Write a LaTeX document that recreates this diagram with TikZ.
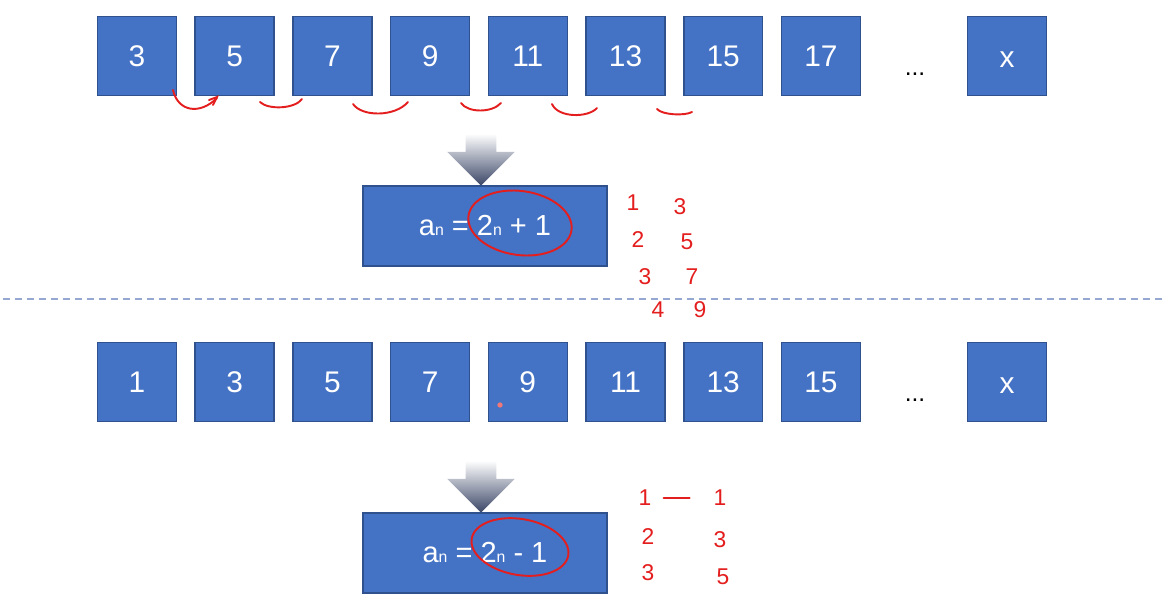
\documentclass[tikz,border=0pt]{standalone}
\usepackage{fontspec}
\setmainfont{Liberation Sans}
\usetikzlibrary{shapes.arrows}
\definecolor{cellBlue}{RGB}{68,114,196}
\definecolor{cellEdge}{RGB}{47,82,143}
\definecolor{arrowDark}{RGB}{58,70,102}
\definecolor{splitBlue}{RGB}{150,168,210}
\definecolor{inkRed}{RGB}{228,30,30}
\tikzset{
  cell/.style={draw=cellEdge, line width=0.9pt, fill=cellBlue, minimum size=1.58cm,
    inner sep=0pt, text=white, font=\fontsize{17}{17}\selectfont},
  lastcell/.style={cell, text height=13.4pt, text depth=0pt},
  formula/.style={draw=cellEdge, line width=0.9pt, fill=cellBlue, minimum width=4.88cm,
    minimum height=1.6cm, inner sep=0pt, text=white, font=\fontsize{16.5}{16.5}\selectfont},
  downarrow/.style={single arrow, shape border rotate=270, draw=none, inner xsep=0.3cm,
    inner ysep=0pt, top color=white, bottom color=arrowDark, minimum height=1.04cm,
    minimum width=1.34cm, single arrow head extend=0.37cm},
  ink/.style={draw=inkRed, line width=1.1pt, line cap=round},
  handnum/.style={text=inkRed, font=\fontsize{13}{13}\selectfont, inner sep=0pt},
  dots/.style={font=\fontsize{14}{14}\selectfont, inner sep=0pt}
}
\newcommand{\sub}{{\fontsize{9}{9}\selectfont n}}
\begin{document}
\begin{tikzpicture}[x=0.02cm,y=-0.02cm]
    \useasboundingbox (0,0) rectangle (1167,599);
    % upper sequence
    \foreach \v [count=\i from 0] in {3,5,7,9,11,13,15,17} {
      \node[cell] (top\i) at ({137+97.7*\i},56) {\v};
    }
    \node[dots] (topdots) at (915,74) {...};
    \node[lastcell] (topx) at (1007,56) {x};
    \node[downarrow] (arr1) at (481,152) {};
    \node[formula] (f1) at (485,226) {a\sub\ = 2\sub\ + 1};
    % split line
    \draw[splitBlue, line width=1.1pt, dash pattern=on 0.14cm off 0.1cm] (3,299) -- (1167,299);
    % lower sequence
    \foreach \v [count=\i from 0] in {1,3,5,7,9,11,13,15} {
      \node[cell] (bot\i) at ({137+97.7*\i},382) {\v};
    }
    \node[dots] (botdots) at (915,400) {...};
    \node[lastcell] (botx) at (1007,382) {x};
    \node[downarrow] (arr2) at (481,479) {};
    \node[formula] (f2) at (485,553) {a\sub\ = 2\sub\ - 1};
    \fill[inkRed!60] (500,405) circle (1.5pt);
    % red annotations
    \draw[ink] (173,90) .. controls (178,112) and (200,115) .. (217,98);
    \draw[ink] (209,100) -- (217,97) -- (213,105);
    \draw[ink] (260,102) .. controls (268,110) and (295,109) .. (302,99);
    \draw[ink] (353,104) .. controls (362,117) and (395,117) .. (408,102);
    \draw[ink] (461,103) .. controls (468,113) and (492,113) .. (501,103);
    \draw[ink] (552,104) .. controls (558,118) and (588,118) .. (597,108);
    \draw[ink] (657,109) .. controls (662,115) and (685,116) .. (692,112);
    \draw[ink, rotate around={-8:(520,223)}] (520,223) ellipse [x radius=1.04cm, y radius=0.64cm];
    \draw[ink, rotate around={-10:(520,547)}] (520,547) ellipse [x radius=0.98cm, y radius=0.56cm];
    \node[handnum] (l1) at (633,203) {1};
    \node[handnum] (r1) at (680,207) {3};
    \node[handnum] (l2) at (638,240) {2};
    \node[handnum] (r2) at (687,242) {5};
    \node[handnum] (l3) at (645,277) {3};
    \node[handnum] (r3) at (692,277) {7};
    \node[handnum] (l4) at (658,310) {4};
    \node[handnum] (r4) at (700,310) {9};
    \node[handnum] (m1) at (645,498) {1};
    \node[handnum] (n1) at (720,498) {1};
    \draw[ink] (m1.east) ++(12,0) coordinate (d1) -- ++(26,0);
    \node[handnum] (m2) at (648,537) {2};
    \node[handnum] (n2) at (720,540) {3};
    \node[handnum] (m3) at (648,573) {3};
    \node[handnum] (n3) at (723,577) {5};
  \end{tikzpicture}
\end{document}
